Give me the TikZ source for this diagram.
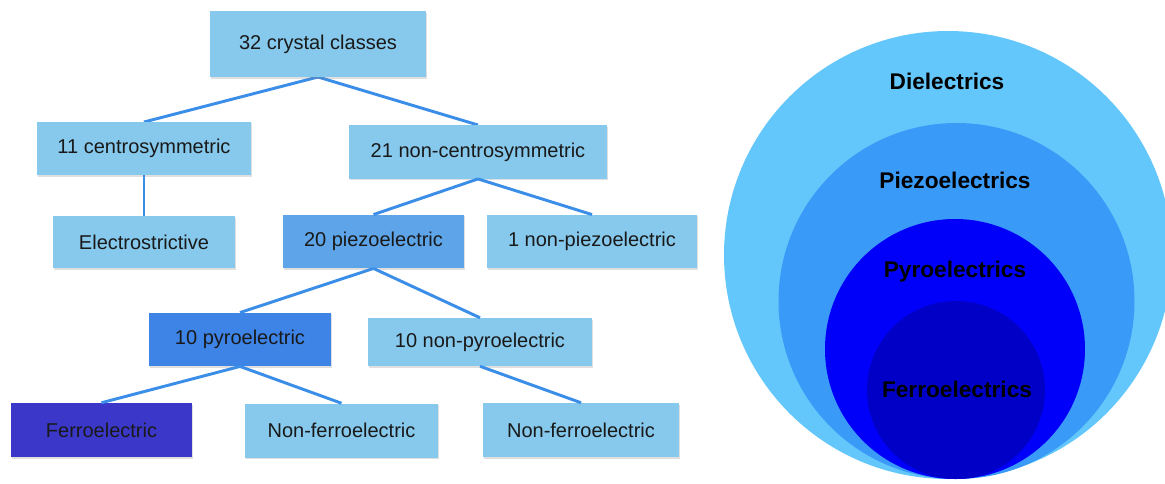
\documentclass[tikz,border=0pt]{standalone}
\usepackage{fontspec}
\setmainfont{Liberation Sans}
\usetikzlibrary{shadows}

\definecolor{boxlight}{HTML}{86C9EC}
\definecolor{boxpiezo}{HTML}{5DA4E8}
\definecolor{boxpyro}{HTML}{3D84E6}
\definecolor{boxferro}{HTML}{3B38C9}
\definecolor{linkblue}{HTML}{3A8EE8}
\definecolor{dielcol}{HTML}{64C7FB}
\definecolor{piezocol}{HTML}{3A9AF8}
\definecolor{pyrocol}{HTML}{0000FA}
\definecolor{ferrocol}{HTML}{0000C6}

\begin{document}
\begin{tikzpicture}[x=0.75pt,y=-0.75pt,
        box/.style={fill=boxlight,minimum height=40pt,inner sep=0pt,text=black!90,
            font=\fontsize{15}{18}\selectfont,
            drop shadow={shadow xshift=1pt,shadow yshift=-1.2pt,opacity=.25}},
        link/.style={draw=linkblue,line width=2.2pt},
        ringlabel/.style={font=\fontsize{17}{20}\selectfont\bfseries,text=black}]

    \clip (0,0) rectangle (1165,483);

    % connectors first, boxes on top
    \coordinate (classesB) at (318,77);
    \coordinate (centroT) at (144,122);
    \coordinate (noncentroT) at (478,125);
    \draw[link] (classesB) -- (centroT);
    \draw[link] (classesB) -- (noncentroT);

    % tree of classes
    \node[box,minimum width=162pt,minimum height=49.5pt] (classes) at (318,44) {32 crystal classes};
    \node[box,minimum width=160.5pt] (centro) at (144,148.5) {11 centrosymmetric};
    \node[box,minimum width=193.5pt] (noncentro) at (478,152) {21 non-centrosymmetric};

    \node[box,minimum width=136.5pt,minimum height=39pt] (electro) at (144,242) {Electrostrictive};
    \node[box,fill=boxpiezo,minimum width=135.75pt] (piezo) at (373.5,241.5) {20 piezoelectric};
    \node[box,minimum width=157.5pt] (nonpiezo) at (592,241.5) {1 non-piezoelectric};

    \node[box,fill=boxpyro,minimum width=136.5pt] (pyro) at (240,339.5) {10 pyroelectric};
    \node[box,minimum width=168pt,minimum height=36pt] (nonpyro) at (480,342) {10 non-pyroelectric};

    \node[box,fill=boxferro,minimum width=135.75pt,minimum height=40.5pt] (ferro) at (101.5,430) {Ferroelectric};
    \node[box,minimum width=144.75pt,minimum height=40.5pt] (nonferroA) at (341.5,430.5) {Non-ferroelectric};
    \node[box,minimum width=147pt,minimum height=40.5pt] (nonferroB) at (581,430) {Non-ferroelectric};

    \draw[link] (centro.south) -- (electro.north);
    \draw[link] (noncentro.south) -- (piezo.north);
    \draw[link] (noncentro.south) -- (nonpiezo.north);
    \draw[link] (piezo.south) -- (pyro.north);
    \draw[link] (piezo.south) -- (nonpyro.north);
    \draw[link] (pyro.south) -- (ferro.north);
    \draw[link] (pyro.south) -- (nonferroA.north);
    \draw[link] (nonpyro.south) -- (nonferroB.north);

    % nested circles
    \fill[dielcol] (948,255) circle[radius=224];
    \fill[piezocol] (956.5,301) circle[radius=178];
    \fill[pyrocol] (955,349) circle[radius=130];
    \fill[ferrocol] (956,390) circle[radius=89];

    \node[ringlabel] (diel) at (947,81) {Dielectrics};
    \node[ringlabel] (piezoring) at (955,180) {Piezoelectrics};
    \node[ringlabel] (pyroring) at (955,272) {Pyroelectrics};
    \node[ringlabel] (ferroring) at (957,389) {Ferroelectrics};

\end{tikzpicture}
\end{document}
